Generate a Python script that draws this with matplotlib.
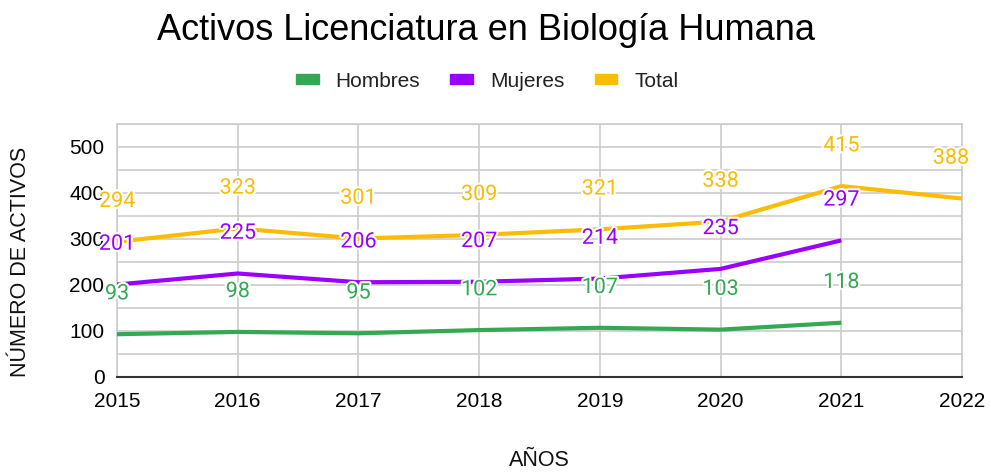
import matplotlib
matplotlib.use("Agg")
import matplotlib.pyplot as plt
import matplotlib.patheffects as pe
from matplotlib.patches import Patch
from matplotlib.ticker import MultipleLocator

years = [2015, 2016, 2017, 2018, 2019, 2020, 2021, 2022]
hombres = [93, 98, 95, 102, 107, 103, 118, None]
mujeres = [201, 225, 206, 207, 214, 235, 297, None]
total = [294, 323, 301, 309, 321, 338, 415, 388]

series = [("Hombres", hombres, "#34a853"),
          ("Mujeres", mujeres, "#9900ff"),
          ("Total", total, "#fbbc04")]

fig = plt.figure(figsize=(9.91, 4.72), dpi=100)
ax = fig.add_axes([117/991, 1-377/472, (962-117)/991, (377-124)/472])

for name, vals, col in series:
    xs = [x for x, v in zip(years, vals) if v is not None]
    ys = [v for v in vals if v is not None]
    ax.plot(xs, ys, color=col, lw=3, solid_capstyle="butt", zorder=3)
    for x, y in zip(xs, ys):
        dx = -8 if x == years[-1] else 0
        ax.annotate(str(y), (x, y), xytext=(dx, 29), textcoords="offset points",
                    ha="center", va="center", color=col, fontsize=15.5, family="Roboto",
                    zorder=4, annotation_clip=False,
                    path_effects=[pe.withStroke(linewidth=3, foreground="white")])

ax.set_xlim(2015, 2022)
ax.set_ylim(0, 550)
ax.set_xticks(years)
ax.set_xticklabels([str(y) for y in years])
ax.yaxis.set_major_locator(MultipleLocator(100))
ax.yaxis.set_minor_locator(MultipleLocator(50))
ax.grid(True, which="both", axis="y", color="#cccccc", lw=1.2, zorder=0)
ax.grid(True, which="major", axis="x", color="#cccccc", lw=1.2, zorder=0)
for s in ["top", "right", "left"]:
    ax.spines[s].set_color("#cccccc")
    ax.spines[s].set_linewidth(1.2)
ax.spines["bottom"].set_color("#333333")
ax.spines["bottom"].set_linewidth(1.5)
ax.tick_params(which="both", length=0)
ax.tick_params(axis="x", labelsize=15, labelcolor="#000000", pad=11)
ax.tick_params(axis="y", labelsize=15, labelcolor="#000000", pad=9)
for lab in ax.get_xticklabels() + ax.get_yticklabels():
    lab.set_family("Liberation Sans")

fig.text(539/991, 1-460/472, "AÑOS", family="Liberation Sans", fontsize=15.5,
         ha="center", va="center", color="#111111")
fig.text(21/991, 1-262/472, "NÚMERO DE ACTIVOS", family="Liberation Sans", fontsize=15.5,
         ha="center", va="center", rotation=90, color="#111111")

fig.text(0.490, 0.935, "Activos Licenciatura en Biología Humana", ha="center", va="center",
         family="Liberation Sans", fontsize=26)

handles = [Patch(facecolor=c, edgecolor=c, label=n) for n, _, c in series]
leg = fig.legend(handles=handles, loc="center", bbox_to_anchor=(0.4915, 0.828), ncol=3,
                 frameon=False, prop={"family": "Liberation Sans", "size": 15},
                 handlelength=1.1, handleheight=0.35, handletextpad=0.8, columnspacing=1.45)
for t in leg.get_texts():
    t.set_color("#222222")

fig.savefig("out.png", dpi=100)
